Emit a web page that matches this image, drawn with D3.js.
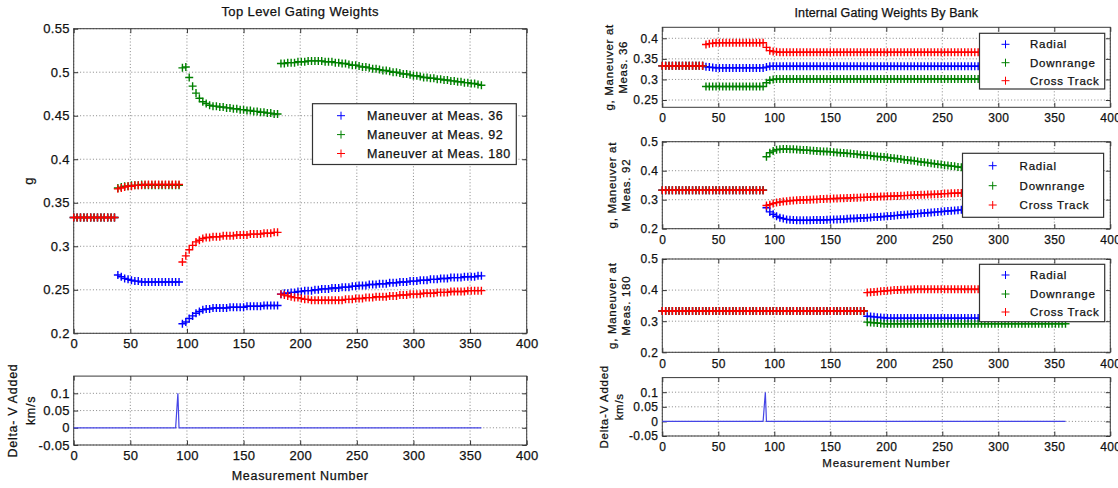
<!DOCTYPE html>
<html>
<head>
<meta charset="utf-8">
<script src="https://cdn.jsdelivr.net/npm/d3@7"></script>
<style>
  html, body { margin: 0; padding: 0; background: #fff; }
  svg text { font-family: "Liberation Sans", Arial, Helvetica, sans-serif; fill: #111; stroke: #111; stroke-width: 0.25px; }
</style>
</head>
<body>
<script>
// ---------------------------------------------------------------
// Data: measurement numbers (every third measurement is plotted)
// ---------------------------------------------------------------
const measurement = [
  0,3,6,9,12,15,18,21,24,27,
  30,33,36,39,42,45,48,51,54,57,
  60,63,66,69,72,75,78,81,84,87,
  90,93,96,99,102,105,108,111,114,117,
  120,123,126,129,132,135,138,141,144,147,
  150,153,156,159,162,165,168,171,174,177,
  180,183,186,189,192,195,198,201,204,207,
  210,213,216,219,222,225,228,231,234,237,
  240,243,246,249,252,255,258,261,264,267,
  270,273,276,279,282,285,288,291,294,297,
  300,303,306,309,312,315,318,321,324,327,
  330,333,336,339,342,345,348,351,354,357,
  360
];

// Top level gating weights, one series per maneuver hypothesis
const topMeas36 = [
  0.333,0.333,0.333,0.333,0.333,0.333,0.333,0.333,0.333,0.333,
  0.333,0.333,0.333,0.267,0.265,0.263,0.262,0.261,0.260,0.260,
  0.259,0.259,0.259,0.259,0.259,0.259,0.259,0.259,0.259,0.259,
  0.259,0.259,0.211,0.213,0.217,0.220,0.223,0.225,0.227,0.228,
  0.228,0.229,0.229,0.229,0.229,0.229,0.230,0.230,0.230,0.230,
  0.230,0.231,0.231,0.231,0.231,0.231,0.232,0.232,0.232,0.232,
  0.232,0.245,0.246,0.246,0.247,0.247,0.248,0.248,0.249,0.249,
  0.249,0.250,0.250,0.251,0.251,0.251,0.252,0.252,0.252,0.253,
  0.253,0.253,0.254,0.254,0.255,0.255,0.255,0.256,0.256,0.256,
  0.257,0.257,0.257,0.258,0.258,0.258,0.259,0.259,0.259,0.260,
  0.260,0.260,0.261,0.261,0.261,0.262,0.262,0.262,0.263,0.263,
  0.263,0.264,0.264,0.264,0.264,0.265,0.265,0.265,0.265,0.266,
  0.266
];
const topMeas92 = [
  0.333,0.333,0.333,0.333,0.333,0.333,0.333,0.333,0.333,0.333,
  0.333,0.333,0.333,0.367,0.368,0.369,0.369,0.370,0.370,0.370,
  0.371,0.370,0.370,0.370,0.370,0.370,0.370,0.370,0.370,0.370,
  0.370,0.370,0.505,0.506,0.494,0.484,0.476,0.470,0.466,0.464,
  0.462,0.461,0.461,0.460,0.460,0.459,0.459,0.458,0.458,0.457,
  0.457,0.456,0.456,0.455,0.455,0.454,0.454,0.453,0.453,0.452,
  0.452,0.510,0.510,0.511,0.511,0.511,0.512,0.512,0.512,0.513,
  0.513,0.513,0.513,0.513,0.512,0.512,0.512,0.511,0.511,0.510,
  0.510,0.509,0.508,0.508,0.507,0.506,0.506,0.505,0.504,0.504,
  0.503,0.502,0.502,0.501,0.500,0.500,0.499,0.498,0.498,0.497,
  0.496,0.496,0.495,0.494,0.494,0.493,0.493,0.492,0.492,0.491,
  0.491,0.490,0.490,0.489,0.489,0.488,0.488,0.487,0.487,0.486,
  0.485
];
const topMeas180 = [
  0.333,0.333,0.333,0.333,0.333,0.333,0.333,0.333,0.333,0.333,
  0.333,0.333,0.333,0.366,0.367,0.368,0.369,0.369,0.370,0.370,
  0.370,0.371,0.371,0.371,0.371,0.371,0.371,0.371,0.371,0.371,
  0.371,0.371,0.282,0.289,0.296,0.301,0.305,0.307,0.309,0.310,
  0.310,0.311,0.311,0.311,0.312,0.312,0.312,0.312,0.313,0.313,
  0.313,0.313,0.314,0.314,0.314,0.314,0.315,0.315,0.315,0.316,
  0.316,0.245,0.244,0.243,0.242,0.241,0.241,0.240,0.239,0.239,
  0.238,0.238,0.238,0.238,0.238,0.238,0.238,0.238,0.238,0.238,
  0.239,0.239,0.239,0.240,0.240,0.240,0.241,0.241,0.241,0.242,
  0.242,0.242,0.242,0.243,0.243,0.243,0.244,0.244,0.244,0.245,
  0.245,0.245,0.245,0.246,0.246,0.246,0.246,0.247,0.247,0.247,
  0.247,0.248,0.248,0.248,0.248,0.248,0.249,0.249,0.249,0.249,
  0.249
];

// Internal gating weights, bank for the maneuver at measurement 36
const bank36Radial = [
  0.333,0.333,0.333,0.333,0.333,0.333,0.333,0.333,0.333,0.333,
  0.333,0.333,0.333,0.331,0.330,0.329,0.328,0.328,0.328,0.328,
  0.328,0.328,0.328,0.328,0.328,0.328,0.328,0.328,0.328,0.328,
  0.328,0.330,0.332,0.332,0.332,0.332,0.332,0.332,0.332,0.332,
  0.332,0.332,0.332,0.332,0.332,0.332,0.332,0.332,0.332,0.332,
  0.332,0.332,0.332,0.332,0.332,0.332,0.332,0.332,0.332,0.332,
  0.332,0.332,0.332,0.332,0.332,0.332,0.332,0.332,0.332,0.332,
  0.332,0.332,0.332,0.332,0.332,0.332,0.332,0.332,0.332,0.332,
  0.332,0.332,0.332,0.332,0.332,0.332,0.332,0.332,0.332,0.332,
  0.332,0.332,0.332,0.332,0.332,0.332,0.332,0.332,0.332,0.332,
  0.332,0.332,0.332,0.332,0.332,0.332,0.332,0.332,0.332,0.332,
  0.332,0.332,0.332,0.332,0.332,0.332,0.332,0.332,0.332,0.332,
  0.332
];
const bank36Downrange = [
  0.333,0.333,0.333,0.333,0.333,0.333,0.333,0.333,0.333,0.333,
  0.333,0.333,0.333,0.283,0.283,0.283,0.283,0.283,0.283,0.283,
  0.283,0.283,0.283,0.283,0.283,0.283,0.283,0.283,0.283,0.283,
  0.283,0.292,0.298,0.300,0.301,0.301,0.301,0.301,0.301,0.301,
  0.301,0.301,0.301,0.301,0.301,0.301,0.301,0.301,0.301,0.301,
  0.301,0.301,0.301,0.301,0.301,0.301,0.301,0.301,0.301,0.301,
  0.301,0.301,0.301,0.301,0.301,0.301,0.301,0.301,0.301,0.301,
  0.301,0.301,0.301,0.301,0.301,0.301,0.301,0.301,0.301,0.301,
  0.301,0.301,0.301,0.301,0.301,0.301,0.301,0.301,0.301,0.301,
  0.301,0.301,0.301,0.301,0.301,0.301,0.301,0.301,0.301,0.301,
  0.301,0.301,0.301,0.301,0.301,0.301,0.301,0.301,0.301,0.301,
  0.301,0.301,0.301,0.301,0.301,0.301,0.301,0.301,0.301,0.301,
  0.301
];
const bank36Cross = [
  0.333,0.333,0.333,0.333,0.333,0.333,0.333,0.333,0.333,0.333,
  0.333,0.333,0.333,0.385,0.387,0.388,0.389,0.389,0.389,0.389,
  0.389,0.389,0.389,0.389,0.389,0.389,0.389,0.389,0.389,0.389,
  0.389,0.378,0.370,0.368,0.367,0.366,0.366,0.366,0.366,0.366,
  0.366,0.366,0.366,0.366,0.366,0.366,0.366,0.366,0.366,0.366,
  0.366,0.366,0.366,0.366,0.366,0.366,0.366,0.366,0.366,0.366,
  0.366,0.366,0.366,0.366,0.366,0.366,0.366,0.366,0.366,0.366,
  0.366,0.366,0.366,0.366,0.366,0.366,0.366,0.366,0.366,0.366,
  0.366,0.366,0.366,0.366,0.366,0.366,0.366,0.366,0.366,0.366,
  0.366,0.366,0.366,0.366,0.366,0.366,0.366,0.366,0.366,0.366,
  0.366,0.366,0.366,0.366,0.366,0.366,0.366,0.366,0.366,0.366,
  0.366,0.366,0.366,0.366,0.366,0.366,0.366,0.366,0.366,0.366,
  0.366
];

// Internal gating weights, bank for the maneuver at measurement 92
const bank92Radial = [
  0.333,0.333,0.333,0.333,0.333,0.333,0.333,0.333,0.333,0.333,
  0.333,0.333,0.333,0.333,0.333,0.333,0.333,0.333,0.333,0.333,
  0.333,0.333,0.333,0.333,0.333,0.333,0.333,0.333,0.333,0.333,
  0.333,0.272,0.258,0.250,0.243,0.238,0.235,0.232,0.231,0.230,
  0.229,0.229,0.229,0.229,0.229,0.230,0.230,0.230,0.230,0.231,
  0.231,0.232,0.232,0.233,0.233,0.234,0.235,0.235,0.236,0.237,
  0.237,0.238,0.239,0.240,0.240,0.241,0.242,0.243,0.244,0.245,
  0.246,0.247,0.248,0.249,0.250,0.251,0.252,0.253,0.254,0.255,
  0.256,0.257,0.258,0.259,0.260,0.261,0.262,0.263,0.264,0.265,
  0.266,0.267,0.268,0.269,0.270,0.271,0.272,0.273,0.274,0.275,
  0.276,0.277,0.278,0.279,0.280,0.281,0.282,0.283,0.284,0.285,
  0.286,0.287,0.288,0.289,0.290,0.291,0.292,0.293,0.294,0.295,
  0.296
];
const bank92Downrange = [
  0.333,0.333,0.333,0.333,0.333,0.333,0.333,0.333,0.333,0.333,
  0.333,0.333,0.333,0.333,0.333,0.333,0.333,0.333,0.333,0.333,
  0.333,0.333,0.333,0.333,0.333,0.333,0.333,0.333,0.333,0.333,
  0.333,0.448,0.462,0.468,0.472,0.474,0.475,0.475,0.474,0.474,
  0.473,0.472,0.471,0.471,0.470,0.469,0.468,0.467,0.466,0.466,
  0.465,0.464,0.463,0.462,0.461,0.460,0.459,0.458,0.457,0.455,
  0.454,0.453,0.452,0.450,0.449,0.448,0.447,0.446,0.444,0.443,
  0.441,0.440,0.438,0.437,0.435,0.434,0.432,0.430,0.429,0.427,
  0.426,0.424,0.422,0.421,0.419,0.418,0.416,0.415,0.413,0.412,
  0.410,0.409,0.407,0.406,0.404,0.403,0.401,0.400,0.398,0.397,
  0.395,0.394,0.392,0.391,0.389,0.388,0.386,0.385,0.383,0.382,
  0.380,0.379,0.377,0.376,0.374,0.373,0.371,0.370,0.368,0.367,
  0.365
];
const bank92Cross = [
  0.333,0.333,0.333,0.333,0.333,0.333,0.333,0.333,0.333,0.333,
  0.333,0.333,0.333,0.333,0.333,0.333,0.333,0.333,0.333,0.333,
  0.333,0.333,0.333,0.333,0.333,0.333,0.333,0.333,0.333,0.333,
  0.333,0.280,0.283,0.287,0.290,0.292,0.294,0.295,0.296,0.297,
  0.298,0.299,0.299,0.300,0.300,0.301,0.301,0.302,0.302,0.303,
  0.303,0.304,0.304,0.305,0.305,0.306,0.306,0.307,0.307,0.308,
  0.308,0.309,0.309,0.310,0.310,0.311,0.311,0.312,0.312,0.313,
  0.313,0.314,0.314,0.315,0.315,0.316,0.316,0.317,0.317,0.318,
  0.318,0.319,0.319,0.320,0.321,0.321,0.322,0.322,0.323,0.323,
  0.324,0.324,0.325,0.325,0.326,0.326,0.327,0.327,0.328,0.328,
  0.329,0.329,0.330,0.330,0.331,0.331,0.332,0.332,0.333,0.333,
  0.334,0.334,0.335,0.335,0.336,0.336,0.337,0.337,0.338,0.338,
  0.339
];

// Internal gating weights, bank for the maneuver at measurement 180
const bank180Radial = [
  0.333,0.333,0.333,0.333,0.333,0.333,0.333,0.333,0.333,0.333,
  0.333,0.333,0.333,0.333,0.333,0.333,0.333,0.333,0.333,0.333,
  0.333,0.333,0.333,0.333,0.333,0.333,0.333,0.333,0.333,0.333,
  0.333,0.333,0.333,0.333,0.333,0.333,0.333,0.333,0.333,0.333,
  0.333,0.333,0.333,0.333,0.333,0.333,0.333,0.333,0.333,0.333,
  0.333,0.333,0.333,0.333,0.333,0.333,0.333,0.333,0.333,0.333,
  0.333,0.316,0.315,0.314,0.313,0.312,0.311,0.310,0.310,0.310,
  0.310,0.310,0.310,0.310,0.310,0.310,0.310,0.310,0.310,0.310,
  0.310,0.310,0.310,0.310,0.310,0.310,0.310,0.310,0.310,0.310,
  0.310,0.310,0.310,0.310,0.310,0.310,0.310,0.310,0.310,0.310,
  0.310,0.310,0.310,0.310,0.310,0.310,0.310,0.310,0.310,0.310,
  0.310,0.310,0.310,0.310,0.310,0.310,0.310,0.310,0.310,0.310,
  0.310
];
const bank180Downrange = [
  0.333,0.333,0.333,0.333,0.333,0.333,0.333,0.333,0.333,0.333,
  0.333,0.333,0.333,0.333,0.333,0.333,0.333,0.333,0.333,0.333,
  0.333,0.333,0.333,0.333,0.333,0.333,0.333,0.333,0.333,0.333,
  0.333,0.333,0.333,0.333,0.333,0.333,0.333,0.333,0.333,0.333,
  0.333,0.333,0.333,0.333,0.333,0.333,0.333,0.333,0.333,0.333,
  0.333,0.333,0.333,0.333,0.333,0.333,0.333,0.333,0.333,0.333,
  0.333,0.297,0.296,0.295,0.294,0.293,0.292,0.292,0.292,0.292,
  0.292,0.292,0.292,0.292,0.292,0.292,0.292,0.292,0.292,0.292,
  0.292,0.292,0.292,0.292,0.292,0.292,0.292,0.292,0.292,0.292,
  0.292,0.292,0.292,0.292,0.292,0.292,0.292,0.292,0.292,0.292,
  0.292,0.292,0.292,0.292,0.292,0.292,0.292,0.292,0.292,0.292,
  0.292,0.292,0.292,0.292,0.292,0.292,0.292,0.292,0.292,0.292,
  0.292
];
const bank180Cross = [
  0.333,0.333,0.333,0.333,0.333,0.333,0.333,0.333,0.333,0.333,
  0.333,0.333,0.333,0.333,0.333,0.333,0.333,0.333,0.333,0.333,
  0.333,0.333,0.333,0.333,0.333,0.333,0.333,0.333,0.333,0.333,
  0.333,0.333,0.333,0.333,0.333,0.333,0.333,0.333,0.333,0.333,
  0.333,0.333,0.333,0.333,0.333,0.333,0.333,0.333,0.333,0.333,
  0.333,0.333,0.333,0.333,0.333,0.333,0.333,0.333,0.333,0.333,
  0.333,0.392,0.393,0.394,0.395,0.396,0.397,0.398,0.399,0.400,
  0.400,0.401,0.401,0.402,0.402,0.403,0.403,0.403,0.403,0.403,
  0.403,0.403,0.403,0.403,0.403,0.403,0.403,0.403,0.403,0.403,
  0.403,0.403,0.403,0.403,0.403,0.403,0.403,0.403,0.403,0.403,
  0.403,0.403,0.403,0.403,0.403,0.403,0.403,0.403,0.403,0.403,
  0.403,0.403,0.403,0.403,0.403,0.403,0.403,0.403,0.403,0.403,
  0.403
];

// Delta-V added (km/s): zero except for the burn around measurement 92
const deltaMeas = [0, 90, 91, 92, 93, 360];
const deltaV    = [0, 0, 0.05, 0.1, 0, 0];

// Tick values
const xTicks      = [0, 50, 100, 150, 200, 250, 300, 350, 400];
const yTicksTop   = [0.2, 0.25, 0.3, 0.35, 0.4, 0.45, 0.5, 0.55];
const yTicksB36   = [0.25, 0.3, 0.35, 0.4];
const yTicksBank  = [0.2, 0.3, 0.4, 0.5];
const yTicksDelta = [-0.05, 0, 0.05, 0.1];

const topNames  = ["Maneuver at Meas. 36", "Maneuver at Meas. 92", "Maneuver at Meas. 180"];
const bankNames = ["Radial", "Downrange", "Cross Track"];

// ---------------------------------------------------------------
// Drawing
// ---------------------------------------------------------------
const COLORS = ["#0000ff", "#008000", "#ff0000"];
const PLUS = "M-4,0H4M0,-4V4";
const TICK = 4.5;

const svg = d3.select("body").append("svg")
  .attr("width", 1118).attr("height", 488);

const LEFT_FONT  = { size: 13, ls: 0.3 };
const RIGHT_FONT = { size: 12, ls: 0.4 };

function axesBox(box, yDomain, yTicks, font, xPad) {
  const x = d3.scaleLinear().domain([0, 400]).range([box.left, box.right]);
  const y = d3.scaleLinear().domain(yDomain).range([box.bottom, box.top]);
  const g = svg.append("g");

  // dotted grid at every tick
  const grid = g.append("g")
    .attr("stroke", "#7a7a7a").attr("stroke-width", 0.9)
    .attr("stroke-dasharray", "1,2.2");
  grid.selectAll("line.gv").data(xTicks).join("line").attr("class", "gv")
    .attr("x1", d => x(d)).attr("x2", d => x(d))
    .attr("y1", box.top).attr("y2", box.bottom);
  grid.selectAll("line.gh").data(yTicks).join("line").attr("class", "gh")
    .attr("x1", box.left).attr("x2", box.right)
    .attr("y1", d => y(d)).attr("y2", d => y(d));

  const fmt = d => String(d);
  const styleAxis = sel => {
    sel.select(".domain").remove();
    sel.attr("color", "#333")
      .attr("font-family", null).attr("font-size", null);
    sel.selectAll("text")
      .style("font-size", font.size + "px")
      .style("letter-spacing", font.ls + "px")
      .attr("fill", "#111");
  };

  g.append("g").attr("transform", `translate(0,${box.bottom})`)
    .call(d3.axisBottom(x).tickValues(xTicks).tickFormat(fmt)
      .tickSizeInner(-TICK).tickSizeOuter(0).tickPadding(xPad))
    .call(styleAxis);
  g.append("g").attr("transform", `translate(0,${box.top})`)
    .call(d3.axisTop(x).tickValues(xTicks).tickFormat("")
      .tickSizeInner(-TICK).tickSizeOuter(0))
    .call(styleAxis);
  g.append("g").attr("transform", `translate(${box.left},0)`)
    .call(d3.axisLeft(y).tickValues(yTicks).tickFormat(fmt)
      .tickSizeInner(-TICK).tickSizeOuter(0).tickPadding(4))
    .call(styleAxis);
  g.append("g").attr("transform", `translate(${box.right},0)`)
    .call(d3.axisRight(y).tickValues(yTicks).tickFormat("")
      .tickSizeInner(-TICK).tickSizeOuter(0))
    .call(styleAxis);

  g.append("rect")
    .attr("x", box.left).attr("y", box.top)
    .attr("width", box.right - box.left).attr("height", box.bottom - box.top)
    .attr("fill", "none").attr("stroke", "#3a3a3a").attr("stroke-width", 1);

  return { x, y, g };
}

function plusSeries(ax, values, color) {
  ax.g.append("g")
    .attr("stroke", color).attr("stroke-width", 1.4).attr("fill", "none")
    .selectAll("path").data(measurement).join("path")
    .attr("d", PLUS)
    .attr("transform", (m, i) => `translate(${ax.x(m)},${ax.y(values[i])})`);
}

function legend(box, rows, names, markerX, textX, font) {
  const g = svg.append("g");
  g.append("rect")
    .attr("x", box.left).attr("y", box.top)
    .attr("width", box.right - box.left).attr("height", box.bottom - box.top)
    .attr("fill", "#fff").attr("stroke", "#333").attr("stroke-width", 1.2);
  names.forEach((name, i) => {
    g.append("path").attr("d", PLUS)
      .attr("transform", `translate(${markerX},${rows[i]})`)
      .attr("stroke", COLORS[i]).attr("stroke-width", 1).attr("fill", "none");
    g.append("text").attr("x", textX).attr("y", rows[i])
      .attr("dy", "0.36em")
      .style("font-size", font.size + "px")
      .style("letter-spacing", font.ls + "px")
      .text(name);
  });
}

function vText(lines, xs, cy, font) {
  lines.forEach((t, i) => {
    svg.append("text")
      .attr("transform", `translate(${xs[i]},${cy}) rotate(-90)`)
      .attr("text-anchor", "middle")
      .style("font-size", font.size + "px")
      .style("letter-spacing", font.ls + "px")
      .text(t);
  });
}

function hText(t, x, y, size, ls) {
  svg.append("text").attr("x", x).attr("y", y)
    .attr("text-anchor", "middle")
    .style("font-size", size + "px").style("letter-spacing", ls + "px")
    .text(t);
}

function deltaLine(ax) {
  const pts = deltaMeas.map((m, i) => [m, deltaV[i]]);
  ax.g.append("path")
    .attr("d", d3.line().x(d => ax.x(d[0])).y(d => ax.y(d[1]))(pts))
    .attr("fill", "none").attr("stroke", "#4545e6").attr("stroke-width", 1.2);
}

// ---------------- left column ----------------
const mainBox = { left: 73.7, right: 526.7, top: 28.7, bottom: 333.3 };
const mainAx = axesBox(mainBox, [0.2, 0.55], yTicksTop, LEFT_FONT, 5);
[topMeas36, topMeas92, topMeas180].forEach((s, i) => plusSeries(mainAx, s, COLORS[i]));
legend({ left: 312.5, right: 516.3, top: 103.7, bottom: 164.5 },
  [115.7, 134.6, 153.5], topNames, 341, 367, { size: 12.5, ls: 0.6 });
hText("Top Level Gating Weights", 300.2, 16, 13, 0.4);
vText(["g"], [33], 181, { size: 13, ls: 0.5 });

const dLBox = { left: 73.7, right: 526.7, top: 376.1, bottom: 445 };
const dLAx = axesBox(dLBox, [-0.05, 0.15], yTicksDelta, LEFT_FONT, 6);
deltaLine(dLAx);
vText(["Delta- V Added", "km/s"], [17.3, 34.5], 410.5, { size: 12.5, ls: 0.7 });
hText("Measurement Number", 300.2, 480, 12.5, 0.7);

// ---------------- right column ----------------
const R = { left: 662.3, right: 1110.3 };

const r1Ax = axesBox({ ...R, top: 27.3, bottom: 107.3 }, [0.2323, 0.4267], yTicksB36, RIGHT_FONT, 6.5);
[bank36Radial, bank36Downrange, bank36Cross].forEach((s, i) => plusSeries(r1Ax, s, COLORS[i]));
legend({ left: 979.5, right: 1104.7, top: 33.3, bottom: 89 },
  [44.3, 62.7, 80.7], bankNames, 1005.5, 1030, { size: 11.5, ls: 0.75 });
vText(["g, Maneuver at", "Meas. 36"], [613, 627], 67.3, { size: 11.5, ls: 0.7 });
hText("Internal Gating Weights By Bank", 886.3, 16.7, 12.5, 0.1);

const r2Ax = axesBox({ ...R, top: 141.7, bottom: 228.7 }, [0.2, 0.5], yTicksBank, RIGHT_FONT, 7);
[bank92Radial, bank92Downrange, bank92Cross].forEach((s, i) => plusSeries(r2Ax, s, COLORS[i]));
legend({ left: 962.5, right: 1103.6, top: 153.3, bottom: 217.3 },
  [165.7, 185.7, 205], bankNames, 992.7, 1019.6, { size: 11.5, ls: 0.75 });
vText(["g, Maneuver at", "Meas. 92"], [616, 630], 185.2, { size: 11.5, ls: 0.7 });

const r3Ax = axesBox({ ...R, top: 259, bottom: 352.3 }, [0.2, 0.5], yTicksBank, RIGHT_FONT, 7);
[bank180Radial, bank180Downrange, bank180Cross].forEach((s, i) => plusSeries(r3Ax, s, COLORS[i]));
legend({ left: 979.5, right: 1104.7, top: 264.3, bottom: 321.7 },
  [275, 294, 312], bankNames, 1005.5, 1030, { size: 11.5, ls: 0.75 });
vText(["g, Maneuver at", "Meas. 180"], [616, 630], 305.7, { size: 11.5, ls: 0.7 });

const dRAx = axesBox({ ...R, top: 377.6, bottom: 436 }, [-0.05, 0.15], yTicksDelta, RIGHT_FONT, 6);
deltaLine(dRAx);
vText(["Delta-V Added", "km/s"], [608, 623], 406.8, { size: 11.5, ls: 0.7 });
hText("Measurement Number", 886.3, 466.7, 11.5, 0.75);
</script>
</body>
</html>
